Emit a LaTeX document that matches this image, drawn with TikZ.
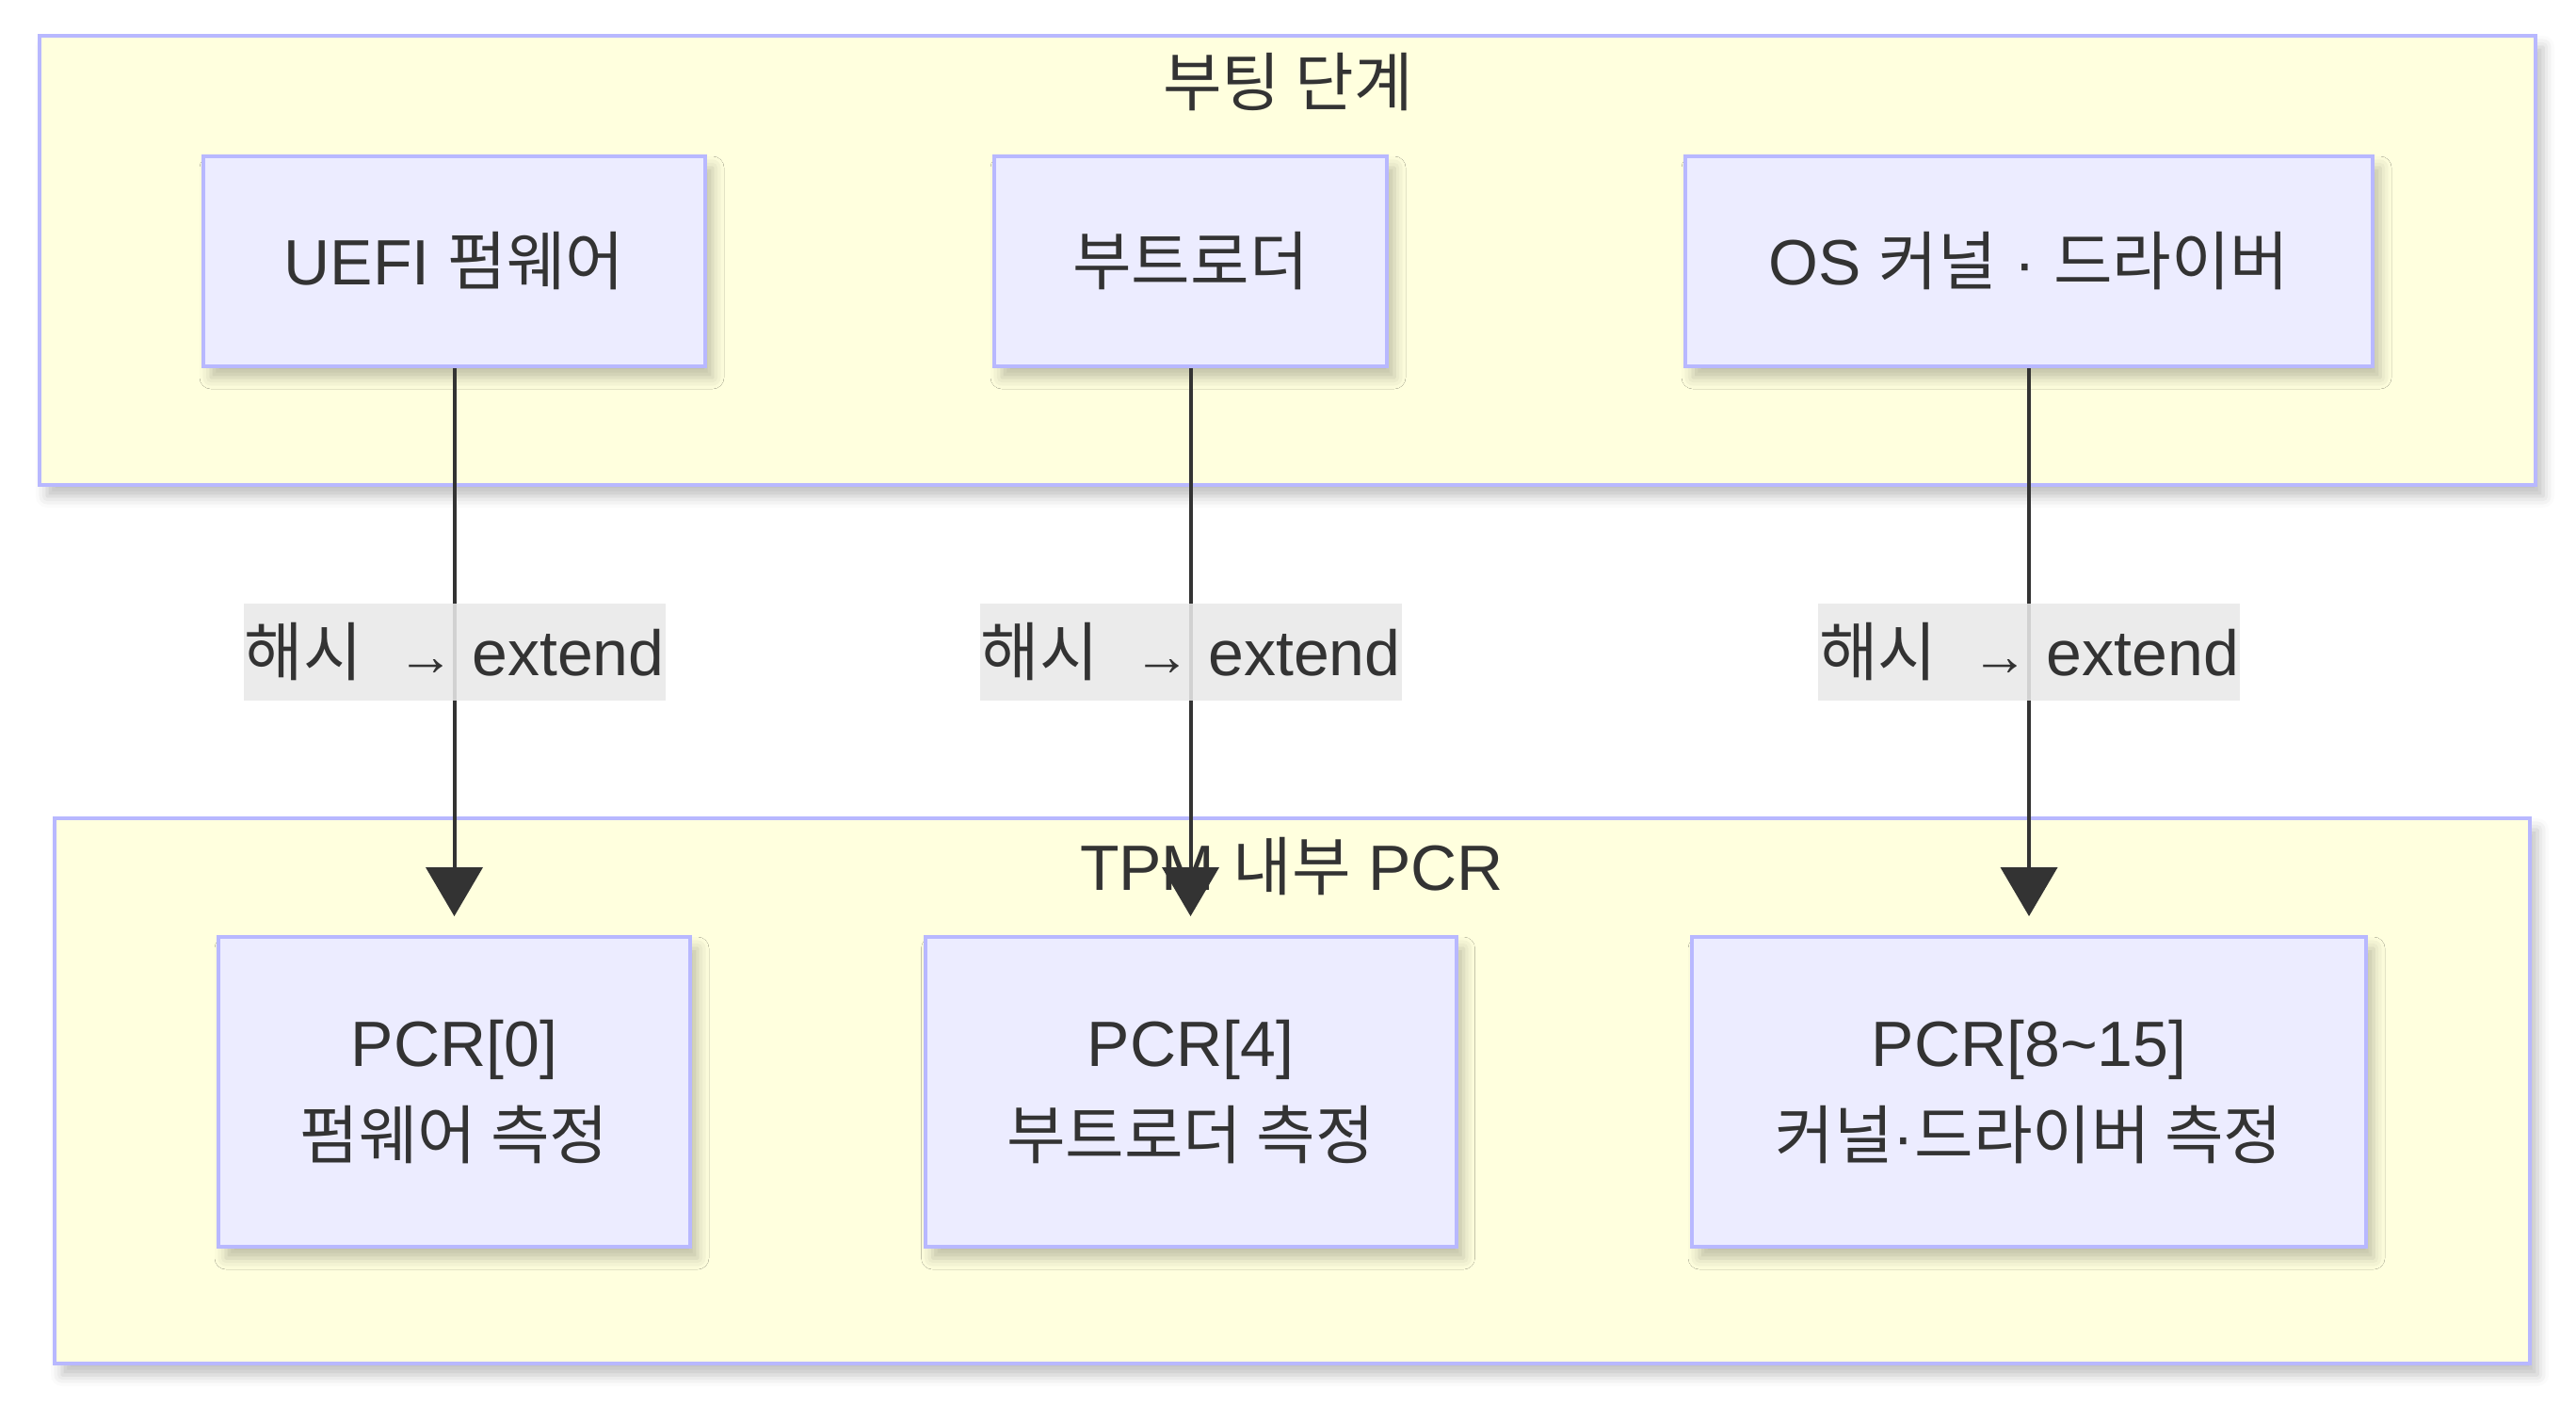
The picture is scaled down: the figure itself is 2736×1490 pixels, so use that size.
\documentclass[tikz,border=0pt]{standalone}
\usepackage{fontspec}
\setmainfont{Liberation Sans}
\newfontfamily\kr{Noto Sans CJK KR}
\usetikzlibrary{arrows.meta,shadows.blur}

\definecolor{clusterbg}{HTML}{FFFFDE}
\definecolor{nodebg}{HTML}{ECECFF}
\definecolor{nodeline}{HTML}{B8B8FF}
\definecolor{ink}{HTML}{333333}
\definecolor{labelbg}{HTML}{E8E8E8}

\newcommand{\hasharrow}{{\kr 해시}\ \ {\fontsize{15pt}{15pt}\selectfont →}\ extend}

\begin{document}
\begin{tikzpicture}[x=0.25pt,y=-0.25pt,font=\fontsize{17pt}{24.5pt}\selectfont,text=ink]
    \tikzstyle{cluster}=[draw=nodeline,fill=clusterbg,line width=1pt,
        blur shadow={shadow xshift=2pt,shadow yshift=-3pt,shadow blur radius=3pt,shadow opacity=25}]
    \tikzstyle{stage}=[draw=nodeline,fill=nodebg,line width=1pt,minimum height=55.75pt,
        blur shadow={shadow xshift=2pt,shadow yshift=-3pt,shadow blur radius=3pt,shadow opacity=25}]
    \tikzstyle{pcr}=[stage,minimum height=82.25pt,align=center]
    \tikzstyle{hash}=[fill=labelbg,fill opacity=0.88,text opacity=1,minimum width=112pt,minimum height=25.75pt,inner sep=0pt]
    \tikzstyle{fwd}=[draw=ink,line width=1pt,-{Triangle[length=13pt,width=15pt]},shorten >=5pt]

    \def\ya{277.5}
    \def\yb{1159.5}
    \def\xa{482.5}
    \def\xb{1264.5}
    \def\xc{2155}

    \useasboundingbox (0,0) rectangle (2736,1490);

    % boot stages
    \draw[cluster] (42,38) rectangle (2693,515);
    \node (boottitle) at (1368,87) {{\kr 부팅 단계}};

    \node[stage,minimum width=133.25pt] (uefi)   at (\xa,\ya) {UEFI {\kr 펌웨어}};
    \node[stage,minimum width=104.25pt] (loader) at (\xb,\ya) {{\kr 부트로더}};
    \node[stage,minimum width=182.5pt]  (kernel) at (\xc,\ya) {OS {\kr 커널} · {\kr 드라이버}};

    % tpm registers
    \draw[cluster] (58,869) rectangle (2687,1448);
    \node (tpmtitle) at (1372,920) {TPM {\kr 내부} PCR};

    \node[pcr,minimum width=125.25pt] (pcr0) at (\xa,\yb) {PCR[0]\\{\kr 펌웨어 측정}};
    \node[pcr,minimum width=141pt]    (pcr4) at (\xb,\yb) {PCR[4]\\{\kr 부트로더 측정}};
    \node[pcr,minimum width=179pt]    (pcr8) at (\xc,\yb) {PCR[8\char`\~15]\\{\kr 커널}·{\kr 드라이버 측정}};

   \draw [fwd] (uefi) -- node[hash] (h1) {\hasharrow} (pcr0);
   \draw [fwd] (loader) -- node[hash] (h2) {\hasharrow} (pcr4);
   \draw [fwd] (kernel) -- node[hash] (h3) {\hasharrow} (pcr8);

\end{tikzpicture}
\end{document}
